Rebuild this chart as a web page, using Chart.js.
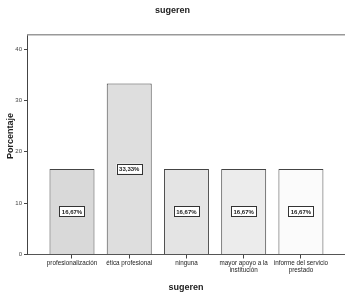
<!DOCTYPE html>
<html>
<head>
<meta charset="utf-8">
<script src="https://cdn.jsdelivr.net/npm/chart.js@4/dist/chart.umd.min.js"></script>
<style>
  html, body { margin: 0; padding: 0; background: #fff; }
  #wrap { width: 345px; height: 292px; }
</style>
</head>
<body>
<div id="wrap"><canvas id="myChart" width="345" height="292"></canvas></div>
<script>
// categories (x axis)
const categories = [
  ['profesionalización'],
  ['ética profesional'],
  ['ninguna'],
  ['mayor apoyo a la', 'institución'],
  ['informe del servicio', 'prestado']
]
// percentage per category
const percentages = [16.67, 33.33, 16.67, 16.67, 16.67]
// y ticks
const yTicks = [0, 10, 20, 30, 40]

const barColors = ['#d9d9d9', '#dedede', '#e4e4e4', '#ececec', '#fbfbfb']
const fontFamily = '"Liberation Sans", Arial, sans-serif'

const barData = percentages.map((v, i) => ({ x: i, y: v }))

// white boxes with the value in the middle of each bar
const boxLabels = {
  id: 'boxLabels',
  afterDatasetsDraw(chart) {
    const ctx = chart.ctx
    const meta = chart.getDatasetMeta(0)
    ctx.save()
    ctx.font = 'bold 6px ' + fontFamily
    ctx.textAlign = 'center'
    ctx.textBaseline = 'middle'
    meta.data.forEach((bar, i) => {
      const txt = percentages[i].toFixed(2).replace('.', ',') + '%'
      const cy = (bar.y + bar.base) / 2
      const w = ctx.measureText(txt).width + 5
      const h = 10
      ctx.fillStyle = '#fff'
      ctx.fillRect(bar.x - w / 2, cy - h / 2, w, h)
      ctx.strokeStyle = '#333'
      ctx.lineWidth = 1
      ctx.strokeRect(Math.round(bar.x - w / 2) + 0.5, Math.round(cy - h / 2) + 0.5, Math.round(w), h)
      ctx.fillStyle = '#222'
      ctx.fillText(txt, bar.x, cy + 0.5)
    })
    ctx.restore()
  }
}

// top frame line
const topLine = {
  id: 'topLine',
  afterDraw(chart) {
    const a = chart.chartArea
    const ctx = chart.ctx
    ctx.save()
    ctx.strokeStyle = '#999'
    ctx.lineWidth = 1.5
    ctx.beginPath()
    ctx.moveTo(a.left, a.top)
    ctx.lineTo(a.right, a.top)
    ctx.stroke()
    ctx.restore()
  }
}

let ctx = document.getElementById('myChart').getContext('2d')

let myBarChart = new Chart(ctx, {
  type: 'bar',
  data: {
    datasets: [{
      data: barData,
      backgroundColor: barColors,
      borderColor: '#444',
      borderWidth: 1,
      categoryPercentage: 1,
      barPercentage: 0.786
    }]
  },
  options: {
    responsive: false,
    devicePixelRatio: 1,
    animation: false,
    layout: { padding: 0 },
    plugins: {
      legend: { display: false },
      tooltip: { enabled: false },
      title: {
        display: true,
        text: 'sugeren',
        color: '#222',
        font: { family: fontFamily, size: 9, weight: 'bold' },
        padding: { top: 5, bottom: 19 }
      }
    },
    scales: {
      x: {
        type: 'linear',
        offset: false,
        min: -0.786,
        max: 4.77,
        afterBuildTicks: s => { s.ticks = categories.map((c, i) => ({ value: i })) },
        afterFit: s => { s.height = 37.5 },
        grid: { offset: false, drawOnChartArea: false, drawTicks: true, tickLength: 4, color: '#444' },
        border: { display: true, color: '#555', width: 1 },
        ticks: {
          autoSkip: false,
          maxRotation: 0,
          padding: 1,
          color: '#222',
          font: { family: fontFamily, size: 6.3, lineHeight: 1.1 },
          callback: v => categories[v]
        },
        title: {
          display: true,
          text: 'sugeren',
          color: '#222',
          font: { family: fontFamily, size: 9, weight: 'bold', lineHeight: 1.1 },
          padding: { top: 0, bottom: 0 }
        }
      },
      y: {
        min: 0,
        max: 42.8,
        afterBuildTicks: s => { s.ticks = yTicks.map(v => ({ value: v })) },
        afterFit: s => { s.width = 27 },
        grid: { drawOnChartArea: false, drawTicks: true, tickLength: 3, color: '#444' },
        border: { display: true, color: '#444', width: 1 },
        ticks: {
          padding: 2,
          color: '#444',
          font: { family: fontFamily, size: 6 }
        },
        title: {
          display: true,
          text: '       Porcentaje',
          color: '#222',
          font: { family: fontFamily, size: 9, weight: 'bold' },
          padding: { top: 5, bottom: 0 }
        }
      }
    }
  },
  plugins: [boxLabels, topLine]
})
</script>
</body>
</html>
